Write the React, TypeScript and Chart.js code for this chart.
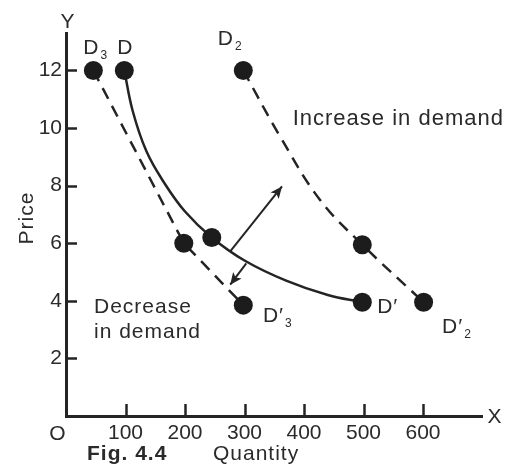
import React, { useEffect, useRef } from "react";
import { Chart, registerables } from "chart.js";

Chart.register(...registerables);

// ---- data ----
const xTicks = [100, 200, 300, 400, 500, 600];
const yTicks = [2, 4, 6, 8, 10, 12];

// marked points (quantity, price)
const dMarkX = [98, 245, 498];
const dMarkY = [12, 6.2, 3.95];
const d2MarkX = [298, 498, 601];
const d2MarkY = [12, 5.95, 3.95];
const d3MarkX = [46, 198, 298];
const d3MarkY = [12, 6, 3.85];

// traced curves
const dCurveX = [98, 112, 135, 165, 200, 245, 300, 370, 440, 498];
const dCurveY = [12, 10.6, 9.2, 8.1, 7.1, 6.2, 5.4, 4.7, 4.2, 3.95];
const d2CurveX = [298, 360, 427, 498, 601];
const d2CurveY = [12, 9.7, 7.5, 5.95, 3.95];
const d3CurveX = [46, 198, 298];
const d3CurveY = [12, 6, 3.85];

// shift arrows
const arrowUpX = [276, 363];
const arrowUpY = [5.72, 7.97];
const arrowDownX = [303, 276];
const arrowDownY = [5.3, 4.56];

// point labels: main text, subscript, anchor (quantity, price)
const labelMain = ["D", "D", "D", "D\u2032", "D\u2032", "D\u2032"];
const labelSub = ["3", "", "2", "3", "", "2"];
const labelX = [29, 86, 255, 331, 523, 632];
const labelY = [12.56, 12.56, 12.9, 3.27, 3.58, 2.89];

// free text notes: text, anchor (quantity, price)
const noteText = ["Increase in demand", "Decrease", "in demand"];
const noteX = [381, 47, 47];
const noteY = [10.12, 3.58, 2.71];

const INK = "#242424";
const TEXT = "#2a2a2a";
const FONT = '"Liberation Sans", Arial, sans-serif';

const pts = (xs: number[], ys: number[]) => xs.map((x, i) => ({ x, y: ys[i] }));

const decorPlugin = {
  id: "decor",
  afterDatasetsDraw(chart: any) {
    const { ctx, chartArea, scales } = chart;
    const x = scales.x;
    const y = scales.y;
    ctx.save();
    // inward tick marks
    ctx.strokeStyle = INK;
    ctx.lineWidth = 2.5;
    for (const t of yTicks) {
      const py = Math.round(y.getPixelForValue(t)) + 0.5;
      ctx.beginPath();
      ctx.moveTo(chartArea.left, py);
      ctx.lineTo(chartArea.left + 11, py);
      ctx.stroke();
    }
    for (const t of xTicks) {
      const px = Math.round(x.getPixelForValue(t)) + 0.5;
      ctx.beginPath();
      ctx.moveTo(px, chartArea.bottom);
      ctx.lineTo(px, chartArea.bottom - 12);
      ctx.stroke();
    }
    // arrowheads on the last segment of arrow datasets
    chart.data.datasets.forEach((ds: any, i: number) => {
      if (!ds.isArrow) return;
      const meta = chart.getDatasetMeta(i);
      const a = meta.data[meta.data.length - 2];
      const b = meta.data[meta.data.length - 1];
      const ang = Math.atan2(b.y - a.y, b.x - a.x);
      const len = 13;
      const half = 0.42;
      ctx.fillStyle = INK;
      ctx.beginPath();
      ctx.moveTo(b.x, b.y);
      ctx.lineTo(b.x - len * Math.cos(ang - half), b.y - len * Math.sin(ang - half));
      ctx.lineTo(b.x - len * 0.7 * Math.cos(ang), b.y - len * 0.7 * Math.sin(ang));
      ctx.lineTo(b.x - len * Math.cos(ang + half), b.y - len * Math.sin(ang + half));
      ctx.closePath();
      ctx.fill();
    });
    // texts
    ctx.fillStyle = TEXT;
    ctx.textBaseline = "alphabetic";
    ctx.textAlign = "left";
    (ctx as any).letterSpacing = "1px";
    labelMain.forEach((m, i) => {
      const px = x.getPixelForValue(labelX[i]);
      const py = y.getPixelForValue(labelY[i]);
      ctx.font = `21px ${FONT}`;
      ctx.fillText(m, px, py);
      const w = ctx.measureText(m).width;
      if (labelSub[i]) {
        ctx.font = `12px ${FONT}`;
        ctx.fillText(labelSub[i], px + w + 1, py + 5);
      }
    });
    noteText.forEach((t, i) => {
      ctx.font = i === 0 ? `22px ${FONT}` : `21px ${FONT}`;
      ctx.fillText(t, x.getPixelForValue(noteX[i]), y.getPixelForValue(noteY[i]));
    });
    ctx.font = `21px ${FONT}`;
    // axis letters
    ctx.textAlign = "center";
    ctx.fillText("Y", chartArea.left + 2, chartArea.top - 5);
    ctx.fillText("O", chartArea.left - 8, chartArea.bottom + 24);
    ctx.textAlign = "left";
    ctx.fillText("X", chartArea.right + 5, chartArea.bottom + 7);
    // footer
    ctx.font = `bold 21px ${FONT}`;
    ctx.fillText("Fig. 4.4", 87, chartArea.bottom + 44);
    ctx.font = `21px ${FONT}`;
    ctx.fillText("Quantity", 213, chartArea.bottom + 44);
    // y title
    ctx.translate(33, 218);
    ctx.rotate(-Math.PI / 2);
    ctx.textAlign = "center";
    ctx.fillText("Price", 0, 0);
    ctx.restore();
  },
};

export default function App() {
  const ref = useRef<HTMLCanvasElement | null>(null);

  useEffect(() => {
    if (!ref.current) return;
    const lineBase = {
      showLine: true,
      pointRadius: 0,
      pointHoverRadius: 0,
      borderColor: INK,
      borderWidth: 2.5,
      fill: false,
    };
    const markBase = {
      showLine: false,
      pointRadius: 9.5,
      pointHoverRadius: 9.5,
      pointBackgroundColor: "#1c1c1c",
      pointBorderColor: "#1c1c1c",
      pointBorderWidth: 0,
    };
    const chart = new Chart(ref.current, {
      type: "scatter",
      data: {
        datasets: [
          { ...markBase, label: "D", data: pts(dMarkX, dMarkY) },
          { ...markBase, label: "D2", data: pts(d2MarkX, d2MarkY) },
          { ...markBase, label: "D3", data: pts(d3MarkX, d3MarkY) },
          { ...lineBase, label: "D curve", data: pts(dCurveX, dCurveY), tension: 0.4 },
          { ...lineBase, label: "D2 curve", data: pts(d2CurveX, d2CurveY), tension: 0.4, borderDash: [12, 8] },
          { ...lineBase, label: "D3 curve", data: pts(d3CurveX, d3CurveY), borderDash: [12, 8] },
          { ...lineBase, label: "up", data: pts(arrowUpX, arrowUpY), borderWidth: 2, isArrow: true },
          { ...lineBase, label: "down", data: pts(arrowDownX, arrowDownY), borderWidth: 2, isArrow: true },
        ] as any,
      },
      options: {
        responsive: false,
        animation: false,
        devicePixelRatio: 1,
        layout: { padding: { left: 0, top: 33, right: 28.5, bottom: 0 } },
        plugins: { legend: { display: false }, tooltip: { enabled: false } },
        events: [],
        scales: {
          x: {
            type: "linear",
            min: 0,
            max: 700,
            afterBuildTicks: (s: any) => {
              s.ticks = xTicks.map((v) => ({ value: v }));
            },
            afterFit: (s: any) => {
              s.height = 59;
            },
            grid: { display: false, drawTicks: false },
            border: { display: true, color: INK, width: 3 },
            ticks: { color: TEXT, font: { family: FONT, size: 21 }, padding: 5, maxRotation: 0 },
          },
          y: {
            type: "linear",
            min: 0,
            max: 13.3,
            afterBuildTicks: (s: any) => {
              s.ticks = yTicks.map((v) => ({ value: v }));
            },
            afterFit: (s: any) => {
              s.width = 66;
            },
            grid: { display: false, drawTicks: false },
            border: { display: true, color: INK, width: 3 },
            ticks: { color: TEXT, font: { family: FONT, size: 21 }, padding: 4 },
          },
        },
      } as any,
      plugins: [decorPlugin as any],
    });
    return () => chart.destroy();
  }, []);

  return (
    <div style={{ position: "fixed", left: 0, top: 0, width: 511, height: 475, background: "#ffffff" }}>
      <canvas ref={ref} width={511} height={475} style={{ display: "block" }} />
    </div>
  );
}
